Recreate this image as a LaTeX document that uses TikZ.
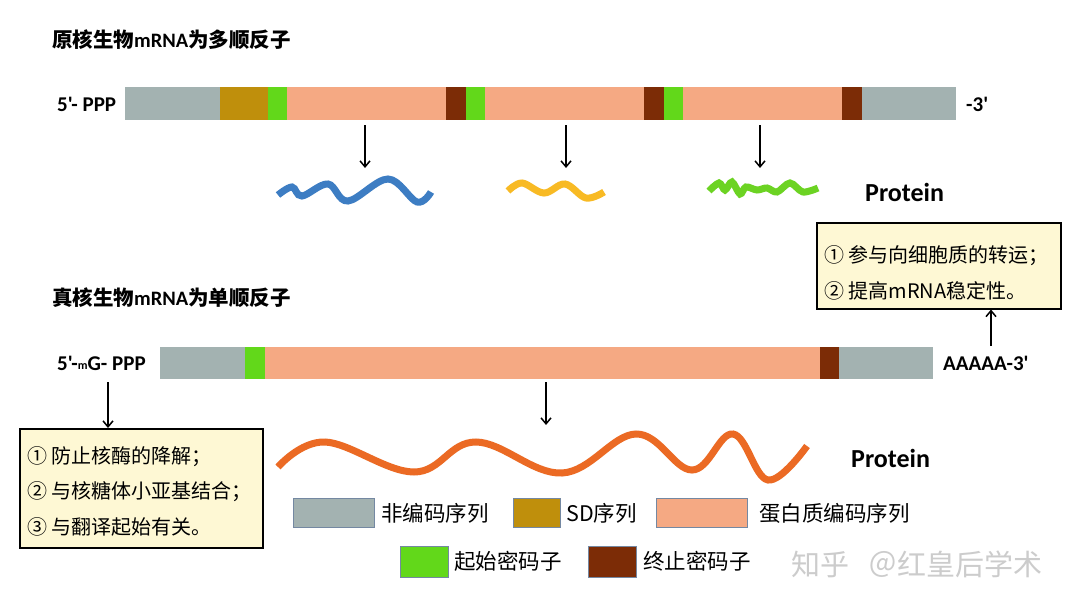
\documentclass[tikz,border=0pt]{standalone}
\usepackage{fontspec}
\setmainfont{Carlito}[Ligatures=TeXOff]
\newfontfamily\cjk{Noto Sans CJK SC}
\usetikzlibrary{arrows.meta}
\definecolor{ncgray}{HTML}{A3B2B1}
\definecolor{sdcol}{HTML}{BF8F0C}
\definecolor{startg}{HTML}{62D81A}
\definecolor{salmon}{HTML}{F5A983}
\definecolor{stopb}{HTML}{7C2C06}
\definecolor{pblue}{HTML}{3D7DC3}
\definecolor{pyellow}{HTML}{F8BA24}
\definecolor{pgreen}{HTML}{6CD323}
\definecolor{porange}{HTML}{EB6A24}
\definecolor{boxfill}{HTML}{FEF8D4}
\definecolor{legedge}{HTML}{7488A2}
\begin{document}
\begin{tikzpicture}[x=1pt,y=-1pt,
  seg/.style={fill=#1,draw=none},
  legbox/.style={fill=#1,draw=legedge,line width=1pt},
  title/.style={anchor=west,inner sep=0pt,font=\fontsize{20.5}{20}\selectfont\bfseries},
  endlab/.style={anchor=west,inner sep=0pt,font=\fontsize{21}{21}\selectfont\bfseries},
  prot/.style={anchor=west,inner sep=0pt,font=\fontsize{26}{26}\selectfont\bfseries},
  legtext/.style={anchor=west,inner sep=0pt,font=\cjk\fontsize{21.5}{22}\selectfont},
  infobox/.style={draw=black,line width=1.5pt,fill=boxfill},
  infotext/.style={anchor=west,inner sep=0pt,font=\cjk\fontsize{20}{20}\selectfont},
  arr/.style={-{Straight Barb[length=6pt,width=10pt]},line width=1.5pt},
  wave/.style={line width=7pt,#1},
  wmark/.style={anchor=west,inner sep=0pt,font=\cjk\fontsize{29}{29}\selectfont,text=black!20}
]
\useasboundingbox[fill=white] (0,0) rectangle (1080,608);

% titles
\node[title] (t1) at (52,40) {{\cjk 原核生物}mRNA{\cjk 为多顺反子}};
\node[title] (t2) at (52,298) {{\cjk 真核生物}mRNA{\cjk 为单顺反子}};

% top bar
\fill[seg=ncgray] (125,87) rectangle (220,120);
\fill[seg=sdcol] (220,87) rectangle (268,120);
\fill[seg=startg] (268,87) rectangle (287,120);
\fill[seg=salmon] (287,87) rectangle (446,120);
\fill[seg=stopb] (446,87) rectangle (466,120);
\fill[seg=startg] (466,87) rectangle (485,120);
\fill[seg=salmon] (485,87) rectangle (644,120);
\fill[seg=stopb] (644,87) rectangle (664,120);
\fill[seg=startg] (664,87) rectangle (683,120);
\fill[seg=salmon] (683,87) rectangle (842,120);
\fill[seg=stopb] (842,87) rectangle (862,120);
\fill[seg=ncgray] (862,87) rectangle (956,120);
\node[endlab] (p5a) at (57,104) {5'- PPP};
\node[endlab] (p3a) at (966,104) {-3'};

% top arrows
\coordinate (a1s) at (365,125); \coordinate (a1e) at (365,168);
\coordinate (a2s) at (566,125); \coordinate (a2e) at (566,168);
\coordinate (a3s) at (760,125); \coordinate (a3e) at (760,168);
\draw[arr] (a1s) -- (a1e);
\draw[arr] (a2s) -- (a2e);
\draw[arr] (a3s) -- (a3e);

% top proteins
\draw[wave=pblue] plot[smooth,tension=0.6] coordinates {(278,195) (292,187) (302,196) (328,184) (348,201) (388,179) (417,202) (431,192)};
\draw[wave=pyellow] plot[smooth,tension=0.6] coordinates {(508,191) (522,183) (544,193) (565,184) (586,198) (604,192)};
\draw[wave=pgreen] plot[smooth,tension=0.55] coordinates {(709,191) (719,183) (725,190) (732,182) (740,194) (746,187) (757,190) (767,188) (777,192) (790,183) (803,192) (818,188)};
\node[prot] (prot1) at (865,192) {Protein};

% top info box
\node[infobox,minimum width=244pt,minimum height=86pt,anchor=north west,inner sep=0pt] (box1) at (816,222) {};
\node[infotext] (b1l1) at (824,256) {① 参与向细胞质的转运；};
\node[infotext] (b1l2) at (824,291) {② 提高mRNA稳定性。};
\coordinate (a4s) at (991,346);
\draw[arr] (a4s) -- (box1.south -| a4s);

% bottom bar
\fill[seg=ncgray] (160,347) rectangle (245,379);
\fill[seg=startg] (245,347) rectangle (265,379);
\fill[seg=salmon] (265,347) rectangle (820,379);
\fill[seg=stopb] (820,347) rectangle (839,379);
\fill[seg=ncgray] (839,347) rectangle (933,379);
\node[endlab] (p5b) at (57,363) {5'-\raisebox{1pt}{\fontsize{12}{12}\selectfont m}G- PPP};
\node[endlab] (p3b) at (943,363) {AAAAA-3'};

% bottom left box
\node[infobox,minimum width=243pt,minimum height=119pt,anchor=north west,inner sep=0pt] (box2) at (19,428) {};
\node[infotext] (b2l1) at (27,457) {① 防止核酶的降解；};
\node[infotext] (b2l2) at (27,492) {② 与核糖体小亚基结合；};
\node[infotext] (b2l3) at (27,527) {③ 与翻译起始有关。};
\coordinate (a5s) at (108,382);
\draw[arr] (a5s) -- (box2.north -| a5s);

% bottom arrow and protein
\coordinate (a6s) at (546,382); \coordinate (a6e) at (546,425);
\draw[arr] (a6s) -- (a6e);
\draw[wave=porange] plot[smooth,tension=0.65] coordinates {(278,467) (325,442) (414,472) (476,442) (562,473) (636,434) (692,470) (733,434) (768,480) (807,446)};
\node[prot] (prot2) at (851,458) {Protein};

% legend
\draw[legbox=ncgray] (293,498) rectangle (374,527);
\node[legtext] (l1) at (381,513) {非编码序列};
\draw[legbox=sdcol] (513,498) rectangle (560,527);
\node[legtext] (l2) at (566,513) {SD序列};
\draw[legbox=salmon] (656,498) rectangle (747,527);
\node[legtext] (l3) at (759,513) {蛋白质编码序列};
\draw[legbox=startg] (400,546) rectangle (448,577);
\node[legtext] (l4) at (454,561) {起始密码子};
\draw[legbox=stopb] (588,546) rectangle (636,577);
\node[legtext] (l5) at (643,561) {终止密码子};

% watermark
\node[wmark] (wm1) at (791,564) {知乎};
\node[wmark] (wm2) at (868,564) {＠红皇后学术};
\end{tikzpicture}
\end{document}
